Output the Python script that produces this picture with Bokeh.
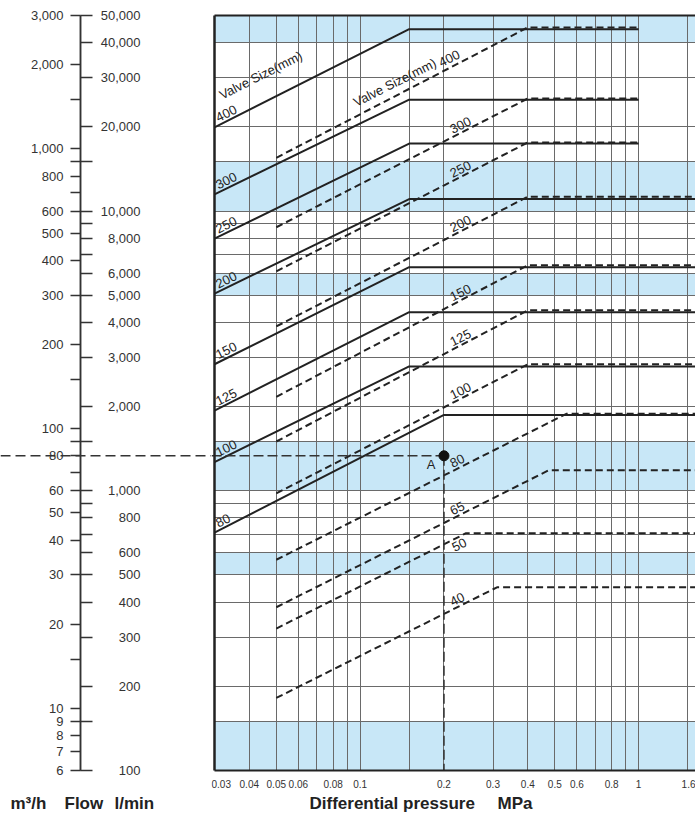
import numpy as np
from bokeh.plotting import figure
from bokeh.layouts import row
from bokeh.models import (Range1d, LogScale, LogAxis, FixedTicker, Grid, Span, Label,
                          BoxAnnotation, NumeralTickFormatter)
from bokeh.core.properties import value
from bokeh.embed import file_html
from bokeh.resources import INLINE

# ---------------- data ----------------
dp_min, dp_max = 0.03, 1.6          # differential pressure range, MPa
q_min, q_max = 6, 3000              # flow range, m3/h
lmin_min, lmin_max = 100, 50000     # flow range, l/min

x_tick_labels = [0.03, 0.04, 0.05, 0.06, 0.08, 0.1, 0.2, 0.3, 0.4, 0.5, 0.6, 0.8, 1, 1.6]
x_grid = [0.04, 0.05, 0.06, 0.07, 0.08, 0.09, 0.1, 0.15, 0.2, 0.3, 0.4, 0.5,
          0.6, 0.7, 0.8, 0.9, 1, 1.5]

m3h_labeled = [6, 7, 8, 9, 10, 20, 30, 40, 50, 60, 80, 100, 200, 300, 400, 500,
               600, 800, 1000, 2000, 3000]
m3h_unlabeled = [15, 70, 90, 150, 700, 900, 1500]
lmin_labeled = [100, 200, 300, 400, 500, 600, 800, 1000, 2000, 3000, 4000, 5000,
                6000, 8000, 10000, 20000, 30000, 40000, 50000]
lmin_unlabeled = [150, 700, 900, 1500, 7000, 9000, 15000]
lmin_grid = [150, 200, 300, 400, 500, 600, 700, 800, 900, 1000, 1500, 2000, 3000,
             4000, 5000, 6000, 7000, 8000, 9000, 10000, 15000, 20000, 30000, 40000]
band_lo = [100, 500, 1000, 5000, 10000, 40000]
band_hi = [150, 600, 1500, 6000, 15000, 50000]

solid_sizes = ["400", "300", "250", "200", "150", "125", "100", "80"]
solid_p_start = [0.03, 0.03, 0.03, 0.03, 0.03, 0.03, 0.03, 0.03]
solid_q_start = [1195, 688, 478, 304, 170, 116, 76, 42.5]
solid_p_break = [0.15, 0.15, 0.15, 0.15, 0.15, 0.15, 0.15, 0.2]
solid_q_flat = [2680, 1500, 1045, 662, 378, 261, 167, 112]
solid_p_end = [1.0, 1.0, 1.0, 1.6, 1.6, 1.6, 1.6, 1.6]

dashed_sizes = ["400", "300", "250", "200", "150", "125", "100", "80", "65", "50", "40"]
dashed_p_start = [0.05, 0.05, 0.05, 0.05, 0.05, 0.05, 0.05, 0.05, 0.05, 0.05, 0.05]
dashed_q_start = [930, 525, 365, 232, 130, 90, 58.7, 34, 23, 19.3, 10.9]
dashed_p_break = [0.4, 0.4, 0.4, 0.4, 0.4, 0.4, 0.4, 0.55, 0.475, 0.24, 0.31]
dashed_q_flat = [2720, 1515, 1055, 675, 384, 265, 170, 113, 71, 42.3, 27.1]
dashed_p_end = [1.0, 1.0, 1.0, 1.6, 1.6, 1.6, 1.6, 1.6, 1.6, 1.6, 1.6]

op_dp = 0.2      # example point A
op_q = 80

# ---------------- layout / styles ----------------
FONT = "Liberation Sans"
INK = "#222222"
BAND = "#c8e7f7"
GRID = "#6a6a6a"
ANGLE = 0.466
H = 817
W_LEFT, W_MAIN = 211, 484
PLOT_TOP, PLOT_BOTTOM = 15, 770      # pixel rows of the chart area
PLOT_LEFT = 3                         # chart area starts 3px inside the main canvas
AXIS_X = 80                           # dual flow scale position (left canvas)
LMIN_LABEL_X = 140

# ranges extended so that the full canvas is the frame (nothing gets clipped)
ppd_y = (PLOT_BOTTOM - PLOT_TOP) / np.log10(q_max / q_min)
ext_bot = 10 ** ((H - PLOT_BOTTOM) / ppd_y)
ext_top = 10 ** (PLOT_TOP / ppd_y)
ppd_x = (W_MAIN - PLOT_LEFT) / np.log10(dp_max / dp_min)
x_lo = dp_min / 10 ** (PLOT_LEFT / ppd_x)

yr = Range1d(q_min / ext_bot, q_max * ext_top)
yr_lmin = Range1d(lmin_min / ext_bot, lmin_max * ext_top)

common = dict(height=H, toolbar_location=None, output_backend="svg",
              min_border_left=0, min_border_right=0, min_border_top=0,
              min_border_bottom=0, outline_line_color=None,
              x_axis_location=None, y_axis_location=None)

# ---------------- left panel: dual flow scale ----------------
left = figure(width=W_LEFT, x_range=Range1d(0, W_LEFT), y_range=yr,
              y_axis_type="log", **common)
left.extra_y_ranges = {"lmin": yr_lmin}
left.extra_y_scales = {"lmin": LogScale()}
left.xgrid.visible = False
left.ygrid.visible = False

tick_kw = dict(major_tick_in=0, minor_tick_in=0,
               major_tick_line_width=1.5, minor_tick_line_width=1.5,
               major_tick_line_color="#333", minor_tick_line_color="#333",
               axis_line_width=1.5, axis_line_color="#333")

ax_m3h = LogAxis(fixed_location=AXIS_X, bounds=(q_min, q_max),
                 ticker=FixedTicker(ticks=m3h_labeled, minor_ticks=m3h_unlabeled),
                 formatter=NumeralTickFormatter(format="0,0"),
                 major_tick_out=10, minor_tick_out=10,
                 major_label_standoff=7, major_label_text_font=FONT,
                 major_label_text_font_size="13px", major_label_text_color="#333",
                 **tick_kw)
left.add_layout(ax_m3h, "left")

ax_lmin = LogAxis(y_range_name="lmin", fixed_location=AXIS_X, bounds=(lmin_min, lmin_max),
                  ticker=FixedTicker(ticks=lmin_labeled, minor_ticks=lmin_unlabeled),
                  major_tick_out=12, minor_tick_out=12,
                  major_label_text_color=None, major_label_text_font_size="1px",
                  **tick_kw)
left.add_layout(ax_lmin, "right")

left.text(x=[LMIN_LABEL_X] * len(lmin_labeled), y=lmin_labeled,
          text=[f"{v:,}" for v in lmin_labeled], y_range_name="lmin",
          text_align="right", text_baseline="middle", text_font=value(FONT),
          text_font_size="13px", text_color="#333")

left.add_layout(Span(location=op_q, dimension="width", line_dash="10 5",
                     line_color="#333", line_width=1.5))

for txt, xs in [("m\u00b3/h", 10), ("Flow", 64), ("l/min", 114)]:
    left.add_layout(Label(x=xs, y=14, x_units="data", y_units="screen", text=txt,
                          text_font=FONT, text_font_size="17px", text_font_style="bold",
                          text_baseline="middle", text_align="left", text_color=INK))

# ---------------- main chart ----------------
p = figure(width=W_MAIN, x_range=Range1d(x_lo, dp_max), y_range=yr,
           x_axis_type="log", y_axis_type="log", **common)
p.extra_y_ranges = {"lmin": yr_lmin}
p.extra_y_scales = {"lmin": LogScale()}
p.xgrid.visible = False
p.ygrid.visible = False

for lo, hi in zip(band_lo, band_hi):
    p.add_layout(BoxAnnotation(left=dp_min, right=dp_max, bottom=lo, top=hi,
                               y_range_name="lmin", level="image",
                               fill_color=BAND, fill_alpha=1.0, line_alpha=0))

p.add_layout(Grid(dimension=0, ticker=FixedTicker(ticks=x_grid),
                  cross_bounds=(q_min, q_max),
                  grid_line_color=GRID, grid_line_width=1))
p.add_layout(Grid(dimension=1, ticker=FixedTicker(ticks=lmin_grid), y_range_name="lmin",
                  cross_bounds=(dp_min, dp_max),
                  grid_line_color=GRID, grid_line_width=1))

# frame borders and pressure axis
border_kw = dict(ticker=FixedTicker(ticks=[]), axis_line_color=INK,
                 major_tick_line_color=None, minor_tick_line_color=None,
                 major_label_text_font_size="1px")
p.add_layout(LogAxis(fixed_location=dp_min, bounds=(q_min, q_max),
                     axis_line_width=2.5, **border_kw), "left")
p.add_layout(LogAxis(fixed_location=q_max, bounds=(dp_min, dp_max),
                     axis_line_width=2, **border_kw), "above")
p.add_layout(LogAxis(fixed_location=q_min, bounds=(dp_min, dp_max),
                     ticker=FixedTicker(ticks=x_tick_labels),
                     formatter=NumeralTickFormatter(format="0.[00]"),
                     axis_line_width=2, axis_line_color=INK,
                     major_tick_out=0, major_tick_in=0, minor_tick_out=0, minor_tick_in=0,
                     major_label_standoff=9, major_label_text_font=FONT,
                     major_label_text_font_size="10px", major_label_text_color="#333"),
             "below")

# valve curves
solid_xs = [[a, b, c] for a, b, c in zip(solid_p_start, solid_p_break, solid_p_end)]
solid_ys = [[a, b, b] for a, b in zip(solid_q_start, solid_q_flat)]
dashed_xs = [[a, b, c] for a, b, c in zip(dashed_p_start, dashed_p_break, dashed_p_end)]
dashed_ys = [[a, b, b] for a, b in zip(dashed_q_start, dashed_q_flat)]

p.multi_line(solid_xs, solid_ys, line_color=INK, line_width=2)
p.multi_line(dashed_xs, dashed_ys, line_color=INK, line_width=2, line_dash="7 4")


def on_line(px, xs, ys):
    return float(np.exp(np.interp(np.log(px), np.log(xs), np.log(ys))))


txt_kw = dict(angle=ANGLE, text_font=value(FONT), text_font_size="13px",
              text_color=INK, text_align="left")

# labels of solid curves at their start
p.text(x=[xs[0] for xs in solid_xs], y=[ys[0] for ys in solid_ys], text=solid_sizes,
       x_offset=4, y_offset=-5, text_baseline="bottom", **txt_kw)
p.text(x=[solid_xs[0][0]], y=[solid_ys[0][0]], text=["Valve Size(mm)"],
       x_offset=9, y_offset=-25, text_baseline="bottom", **txt_kw)

# labels of dashed curves
lab_p = 0.215
above = [i for i in range(1, len(dashed_sizes)) if dashed_sizes[i] != "50"]
p.text(x=[lab_p] * len(above),
       y=[on_line(lab_p, dashed_xs[i], dashed_ys[i]) for i in above],
       text=[dashed_sizes[i] for i in above],
       x_offset=0, y_offset=-3, text_baseline="bottom", **txt_kw)
i50 = dashed_sizes.index("50")
p.text(x=[lab_p], y=[on_line(lab_p, dashed_xs[i50], dashed_ys[i50])], text=["50"],
       x_offset=-2, y_offset=4, text_baseline="top", **txt_kw)
p.text(x=[0.098], y=[on_line(0.098, dashed_xs[0], dashed_ys[0])], text=["Valve Size(mm)"],
       x_offset=0, y_offset=-6, text_baseline="bottom", **txt_kw)
p.text(x=[0.196], y=[on_line(0.196, dashed_xs[0], dashed_ys[0])], text=[dashed_sizes[0]],
       x_offset=0, y_offset=-5, text_baseline="bottom", **txt_kw)

# example reading A
p.line([x_lo, op_dp], [op_q, op_q], line_color="#333", line_width=1.5, line_dash="10 4")
p.line([op_dp, op_dp], [op_q, q_min], line_color="#333", line_width=1.5, line_dash="10 4")
p.scatter([op_dp], [op_q], size=10, color="#111111")
p.text(x=[op_dp], y=[op_q], text=["A"], x_offset=-13, y_offset=9, text_align="center",
       text_baseline="middle", text_font=value(FONT), text_font_size="13px", text_color=INK)

for txt, xs in [("Differential pressure", 98), ("MPa", 286)]:
    p.add_layout(Label(x=xs, y=14, x_units="screen", y_units="screen", text=txt,
                       text_font=FONT, text_font_size="17px", text_font_style="bold",
                       text_baseline="middle", text_align="left", text_color=INK))

layout = row(left, p)
open("out.html", "w").write(file_html(layout, INLINE))
